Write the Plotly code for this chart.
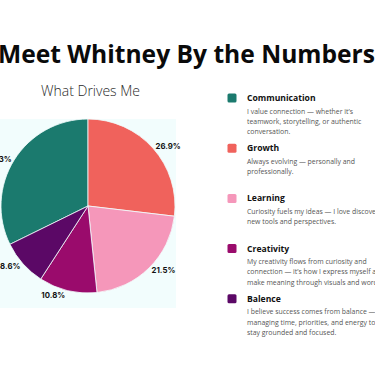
import plotly.graph_objects as go

W, H = 375, 366

labels = ["Communication", "Growth", "Learning", "Creativity", "Balence"]
values = [32.3, 26.9, 21.5, 10.8, 8.6]
colors = ["#1b7a6e", "#f0625c", "#f597ba", "#9a0b6c", "#5b0866"]
descriptions = [
    ["I value connection \u2014 whether it\u2019s", "teamwork, storytelling, or authentic", "conversation."],
    ["Always evolving \u2014 personally and", "professionally."],
    ["Curiosity fuels my ideas \u2014 I love discovering", "new tools and perspectives."],
    ["My creativity flows from curiosity and", "connection \u2014 it\u2019s how I express myself and", "make meaning through visuals and words."],
    ["I believe success comes from balance \u2014", "managing time, priorities, and energy to", "stay grounded and focused."],
]

def px(x):
    return x / W

def py(y):
    return 1 - y / H

# first slice (Communication) starts where Balence ends and closes at 12 o'clock
start_angle = 360 * (1 - values[0] / sum(values))

fig = go.Figure()

fig.add_trace(go.Pie(
    labels=labels,
    values=values,
    sort=False,
    direction="clockwise",
    rotation=start_angle,
    marker=dict(colors=colors, line=dict(color="#f2fdfd", width=0.8)),
    textinfo="percent",
    texttemplate="%{percent:.1%}",
    textposition="outside",
    automargin=False,
    textfont=dict(family="Inter", size=7.8, color="#111111", weight="bold"),
    domain=dict(x=[px(1), px(175)], y=[py(293), py(119)]),
    showlegend=False,
    hoverinfo="label+percent",
))

shapes = [dict(type="rect", xref="paper", yref="paper", x0=0, x1=px(176),
               y0=py(308), y1=py(119), fillcolor="#f2fdfd", line=dict(width=0), layer="below")]

annotations = [
    dict(text="<b>Meet Whitney By the Numbers</b>", x=px(186.5), y=py(53), xref="paper", yref="paper",
         showarrow=False, xanchor="center", yanchor="middle",
         font=dict(family="Open Sans", size=24.6, color="#0a0a0a", weight=800)),
    dict(text="What Drives Me", x=px(90), y=py(90), xref="paper", yref="paper",
         showarrow=False, xanchor="center", yanchor="middle",
         font=dict(family="Open Sans", size=14, color="#2a2a2a", weight=300)),
]

for i, (lab, col, desc) in enumerate(zip(labels, colors, descriptions)):
    yc = 98 + 50.2 * i
    s = 4.5
    r = 1.5
    x0, x1 = 232 - s, 232 + s
    y0, y1 = yc - s, yc + s
    path = (f"M{px(x0 + r)},{py(y0)} L{px(x1 - r)},{py(y0)} Q{px(x1)},{py(y0)} {px(x1)},{py(y0 + r)} "
            f"L{px(x1)},{py(y1 - r)} Q{px(x1)},{py(y1)} {px(x1 - r)},{py(y1)} "
            f"L{px(x0 + r)},{py(y1)} Q{px(x0)},{py(y1)} {px(x0)},{py(y1 - r)} "
            f"L{px(x0)},{py(y0 + r)} Q{px(x0)},{py(y0)} {px(x0 + r)},{py(y0)} Z")
    shapes.append(dict(type="path", xref="paper", yref="paper", path=path,
                       fillcolor=col, line=dict(width=0)))
    annotations.append(dict(text=f"<b>{lab}</b>", x=px(245), y=py(yc), xref="paper", yref="paper",
                            showarrow=False, xanchor="left", yanchor="middle",
                            font=dict(family="Open Sans", size=8.6, color="#111111", weight="bold")))
    for k, line in enumerate(desc):
        annotations.append(dict(text=line, x=px(245), y=py(yc + 13 + 10.3 * k), xref="paper", yref="paper",
                                showarrow=False, xanchor="left", yanchor="middle",
                                font=dict(family="Open Sans", size=6.9, color="#555555")))

fig.update_layout(
    width=W, height=H,
    margin=dict(l=0, r=0, t=0, b=0, pad=0, autoexpand=False),
    paper_bgcolor="white",
    plot_bgcolor="white",
    shapes=shapes,
    annotations=annotations,
)

fig.write_html("out.html", config={"displayModeBar": False},
               post_script="document.body.style.margin='0';")
